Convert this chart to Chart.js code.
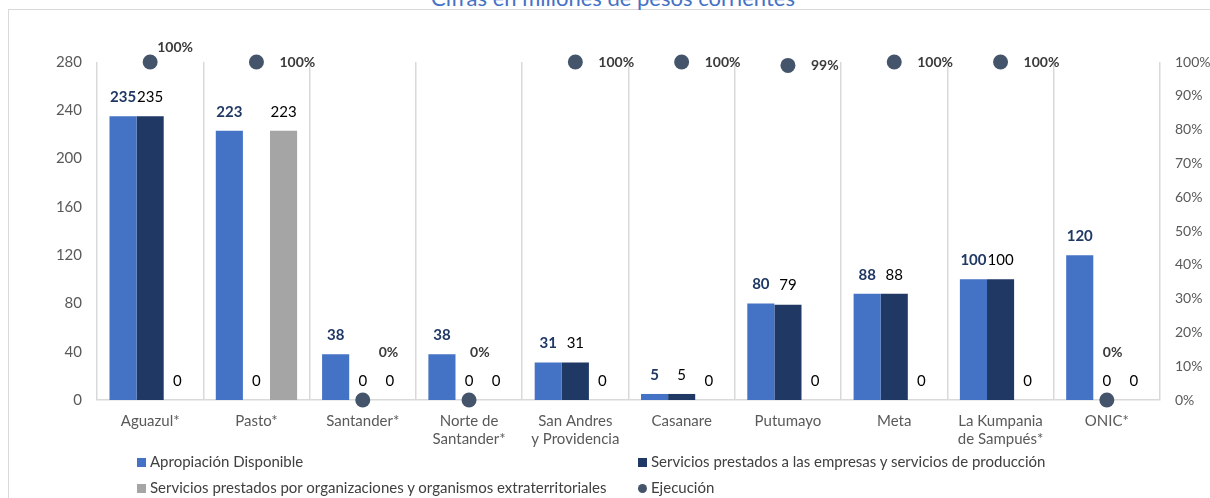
<!DOCTYPE html>
<html>
<head>
<meta charset="utf-8">
<script src="https://cdn.jsdelivr.net/npm/chart.js@4.4.1/dist/chart.umd.min.js"></script>
<style>
	body { margin: 0; background: #fff; overflow: hidden; font-family: Lato, "Noto Sans", sans-serif; }
	#wrap { position: relative; width: 1210px; height: 498px; overflow: hidden; }
	#frame { position: absolute; left: 8px; top: 9px; width: 1220px; height: 520px; border: 1px solid #d9d9d9; box-sizing: border-box; }
	#title { position: absolute; left: 0; width: 1226px; top: -16px; text-align: center; color: #4472c4; font-size: 22px; }
	#mycanvas { position: absolute; left: 0; top: 0; }
	.leg { position: absolute; font-size: 15px; color: #404040; white-space: nowrap; }
	.leg i { display: inline-block; width: 9px; height: 9px; margin-right: 4px; vertical-align: 0px; }
	.leg i.dot { border-radius: 50%; }
</style>
</head>
<body>
<div id="wrap">
	<div id="frame"></div>
	<div id="title">Cifras en millones de pesos corrientes</div>
	<canvas id="mycanvas" width="1210" height="498"></canvas>
	<div id="legend"></div>
</div>
<script>
var categorias = ['Aguazul*', 'Pasto*', 'Santander*', ['Norte de', 'Santander*'], ['San Andres', 'y Providencia'], 'Casanare', 'Putumayo', 'Meta', ['La Kumpania', 'de Sampués*'], 'ONIC*'];
var nombres = ['Apropiación Disponible', 'Servicios prestados a las empresas y servicios de producción', 'Servicios prestados por organizaciones y organismos extraterritoriales', 'Ejecución'];
var apropiacion = [235, 223, 38, 38, 31, 5, 80, 88, 100, 120];
var empresas = [235, 0, 0, 0, 31, 5, 79, 88, 100, 0];
var organizaciones = [0, 223, 0, 0, 0, 0, 0, 0, 0, 0];
var ejecucion = [1, 1, 0, 0, 1, 1, 0.99, 1, 1, 0];
var ticksIzq = [0, 40, 80, 120, 160, 200, 240, 280];

// desplazamiento de las etiquetas de ejecución (como quedaron en el original)
var etqDx = [7, 23, 16, 1, 23, 23, 23, 23, 23, -4];
var etqDy = [-15, 0, -48, -48, 0, 0, 0, 0, 0, -48];

var colores = ['#4472c4', '#203864', '#a5a5a5', '#44546a'];

var etiquetas = {
	id: 'etiquetas',
	afterDatasetsDraw: function(chart) {
		var ctx = chart.ctx;
		ctx.save();
		[0, 1, 2].forEach(function(d) {
			var meta = chart.getDatasetMeta(d);
			var datos = chart.data.datasets[d].data;
			meta.data.forEach(function(bar, i) {
				if (d == 0) {
					ctx.font = 'bold 15px Lato, "Noto Sans", sans-serif';
					ctx.fillStyle = '#203864';
				} else {
					ctx.font = '15px Lato, "Noto Sans", sans-serif';
					ctx.fillStyle = '#000';
				}
				ctx.textAlign = 'center';
				ctx.textBaseline = 'middle';
				ctx.fillText(datos[i], bar.x, bar.y - 19);
			});
		});
		var meta = chart.getDatasetMeta(3);
		ctx.font = 'bold 14px Lato, "Noto Sans", sans-serif';
		ctx.fillStyle = '#3a3a3a';
		ctx.textAlign = 'left';
		ctx.textBaseline = 'middle';
		meta.data.forEach(function(p, i) {
			ctx.fillText(Math.round(ejecucion[i] * 100) + '%', p.x + etqDx[i], p.y + etqDy[i]);
		});
		ctx.restore();
	}
};

var chartdata = {
	labels: categorias,
	datasets: [
		{ label: nombres[0], data: apropiacion, backgroundColor: colores[0], yAxisID: 'y', order: 1 },
		{ label: nombres[1], data: empresas, backgroundColor: colores[1], yAxisID: 'y', order: 1 },
		{ label: nombres[2], data: organizaciones, backgroundColor: colores[2], yAxisID: 'y', order: 1 },
		{ type: 'line', label: nombres[3], data: ejecucion, yAxisID: 'y1', showLine: false,
		  pointRadius: 7.5, pointHoverRadius: 7.5, pointBackgroundColor: colores[3], pointBorderWidth: 0,
		  borderColor: colores[3], clip: false, order: 0 }
	]
};

var ctx = document.getElementById('mycanvas');
var grafica = new Chart(ctx, {
	type: 'bar',
	data: chartdata,
	options: {
		responsive: false,
		animation: false,
		layout: { padding: { top: 62, left: 0, right: 0, bottom: 0 } },
		datasets: { bar: { categoryPercentage: 0.765, barPercentage: 1 } },
		plugins: { legend: { display: false }, tooltip: { enabled: false } },
		scales: {
			x: {
				grid: { color: '#d9d9d9', lineWidth: 1.5, drawTicks: false, offset: true },
				border: { color: '#d9d9d9', width: 1.5 },
				ticks: { color: '#595959', font: { family: 'Lato', size: 15 }, padding: 12, maxRotation: 0, autoSkip: false },
				afterFit: function(s) { s.height = 98; }
			},
			y: {
				position: 'left', min: 0, max: 280,
				afterBuildTicks: function(s) { s.ticks = ticksIzq.map(function(v) { return { value: v }; }); },
				grid: { display: false, drawTicks: false }, border: { display: false },
				ticks: { color: '#595959', font: { family: 'Lato', size: 15 }, padding: 15 },
				afterFit: function(s) { s.width = 97; }
			},
			y1: {
				position: 'right', min: 0, max: 1,
				ticks: { stepSize: 0.1, color: '#595959', font: { family: 'Lato', size: 14 }, padding: 15,
					callback: function(v) { return Math.round(v * 100) + '%'; } },
				grid: { display: false, drawTicks: false }, border: { display: false },
				afterFit: function(s) { s.width = 50; }
			}
		}
	},
	plugins: [etiquetas]
});

// leyenda en dos columnas
var pos = [[137, 462], [638, 462], [137, 488], [638, 488]];
var html = '';
nombres.forEach(function(n, k) {
	html += '<div class="leg" style="left:' + pos[k][0] + 'px;top:' + (pos[k][1] - 10) + 'px">' +
		'<i class="' + (k == 3 ? 'dot' : '') + '" style="background:' + colores[k] + '"></i>' + n + '</div>';
});
document.getElementById('legend').innerHTML = html;
</script>
</body>
</html>
